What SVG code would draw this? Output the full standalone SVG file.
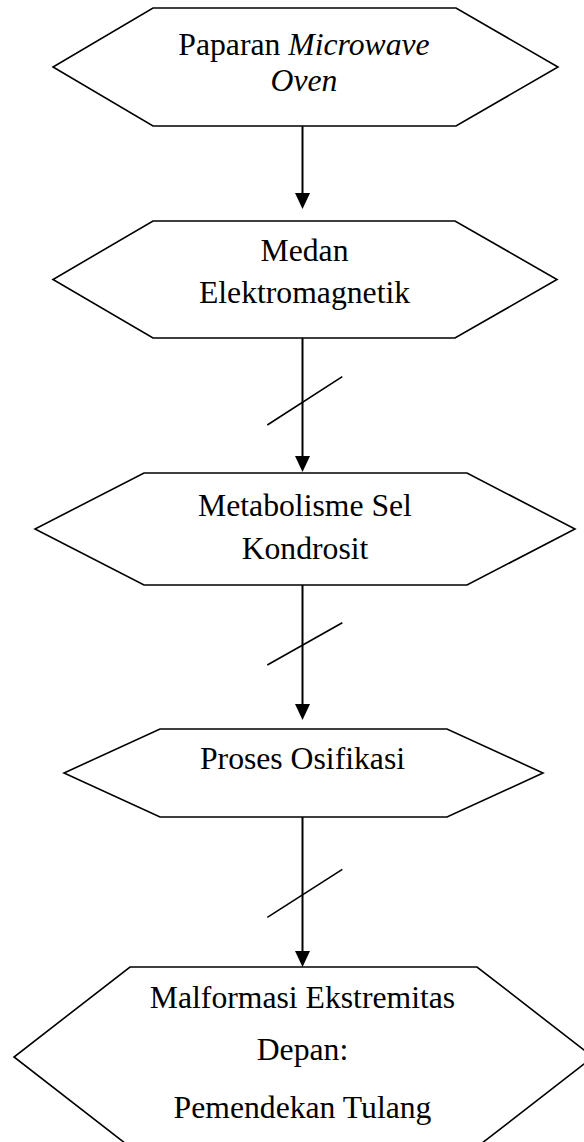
<svg xmlns="http://www.w3.org/2000/svg" width="584" height="1142" viewBox="0 0 584 1142">
<style>
.hex{fill:#fff;stroke:#000;stroke-width:1.6;stroke-linejoin:miter}
.lbl{font-family:"Liberation Serif","Times New Roman",serif;font-size:31.7px;fill:#000;text-anchor:middle}
.conn{stroke:#000;stroke-width:2;fill:none}
.slash{stroke:#000;stroke-width:1.6;fill:none}
</style>
<defs>
<marker id="ah" viewBox="0 0 16 15" refX="6" refY="7.5" markerWidth="16" markerHeight="15" markerUnits="userSpaceOnUse" orient="auto">
<path d="M0,0 L16,7.5 L0,15 Z" fill="#000"/>
</marker>
</defs>
<rect width="584" height="1142" fill="#fff"/>
<g id="connectors">
<line class="conn" x1="302.5" y1="126" x2="302.5" y2="199"  marker-end="url(#ah)"/>
<line class="conn" x1="302.5" y1="338" x2="302.5" y2="462" marker-end="url(#ah)"/>
<line class="slash" x1="267.3" y1="425" x2="342.3" y2="376.7"/>
<line class="conn" x1="302.5" y1="585" x2="302.5" y2="710" marker-end="url(#ah)"/>
<line class="slash" x1="267.3" y1="665" x2="342.3" y2="622.7"/>
<line class="conn" x1="302.5" y1="817" x2="302.5" y2="957" marker-end="url(#ah)"/>
<line class="slash" x1="267.3" y1="917.3" x2="342.3" y2="869.3"/>
</g>
<g id="node1">
<polygon class="hex" points="153,8 456,8 558,67 456,126 153,126 53,67"/>
<text class="lbl" x="304" y="54.5">Paparan <tspan font-style="italic">Microwave</tspan></text>
<text class="lbl" x="304" y="90.5" font-style="italic">Oven</text>
</g>
<g id="node2">
<polygon class="hex" points="153,221 455,221 557,279.5 455,338 153,338 53,279.5"/>
<text class="lbl" x="304.5" y="261">Medan</text>
<text class="lbl" x="304.5" y="303">Elektromagnetik</text>
</g>
<g id="node3">
<polygon class="hex" points="144,473 467,473 575,529 467,585 144,585 35,529"/>
<text class="lbl" x="305" y="515.5">Metabolisme Sel</text>
<text class="lbl" x="305" y="559">Kondrosit</text>
</g>
<g id="node4">
<polygon class="hex" points="160,729 447,729 543,773 447,817 160,817 64,773"/>
<text class="lbl" x="302.5" y="769">Proses Osifikasi</text>
</g>
<g id="node5">
<polygon class="hex" points="130,967 477,967 593,1057 477,1147 130,1147 14,1057"/>
<text class="lbl" x="302.5" y="1008">Malformasi Ekstremitas</text>
<text class="lbl" x="302.5" y="1060">Depan:</text>
<text class="lbl" x="302.5" y="1118">Pemendekan Tulang</text>
</g>
</svg>
